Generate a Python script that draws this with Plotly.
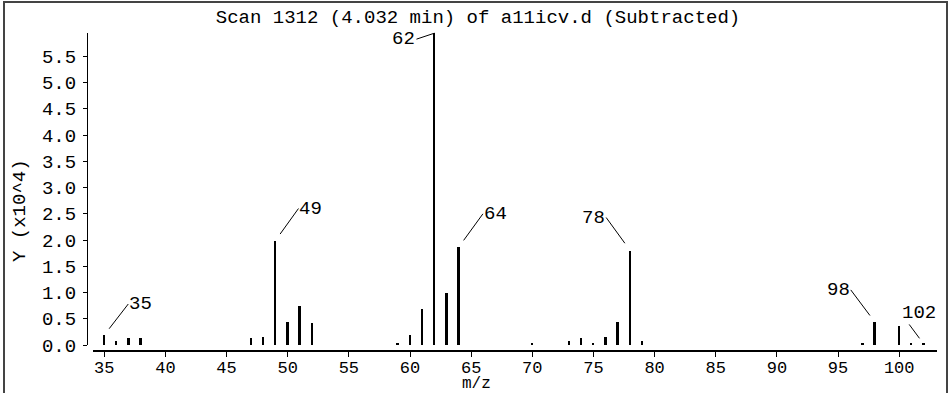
import plotly.graph_objects as go

# ---- data ----
title_text = "Scan 1312 (4.032 min) of a11icv.d (Subtracted)"
mz = [35, 36, 37, 38, 47, 48, 49, 50, 51, 52, 59, 60, 61, 62, 63, 64,
      70, 73, 74, 75, 76, 77, 78, 79, 97, 98, 100, 101, 102]
intensity = [0.19, 0.08, 0.13, 0.13, 0.13, 0.16, 1.99, 0.44, 0.74, 0.41,
             0.04, 0.19, 0.68, 5.94, 1.00, 1.87,
             0.02, 0.08, 0.13, 0.04, 0.16, 0.44, 1.80, 0.08,
             0.04, 0.44, 0.37, 0.04, 0.02]
labeled_mz = [35, 49, 62, 64, 78, 98, 102]
x_tick_vals = [35, 40, 45, 50, 55, 60, 65, 70, 75, 80, 85, 90, 95, 100]
y_tick_vals = [0.0, 0.5, 1.0, 1.5, 2.0, 2.5, 3.0, 3.5, 4.0, 4.5, 5.0, 5.5]
x_title = "m/z"
y_title = "Y (x10^4)"

# ---- layout geometry (pixels) ----
W, H = 950, 393
L, R, T, B = 87, 13, 33, 42
PW, PH = W - L - R, H - T - B
FONT = "Liberation Mono, Courier New, monospace"
FS = 19
FS_TICK = 17
FS_XT = 16

# label leader offsets (style): (ax, ay, xanchor, standoff)
label_style = {
    35: (24, -31, "left", 8),
    49: (23, -32, "left", 8),
    62: (-18, 6, "right", 0),
    64: (24, -33, "left", 8),
    78: (-24, -33, "right", 9),
    98: (-24, -32, "right", 8),
    102: (-23, -31, "left", 7),
}

fig = go.Figure()
fig.add_trace(go.Bar(
    x=mz, y=intensity, width=0.16,
    marker=dict(color="black", line=dict(width=0)),
    hoverinfo="x+y",
))

lookup = dict(zip(mz, intensity))
annotations = []
for m in labeled_mz:
    ax, ay, xa, so = label_style[m]
    annotations.append(dict(
        x=m, y=lookup[m], xref="x", yref="y",
        text=str(m), showarrow=True, arrowhead=0, arrowwidth=1,
        arrowcolor="black", ax=ax, ay=ay, axref="pixel", ayref="pixel",
        xanchor=xa, yanchor="middle", standoff=so,
        font=dict(family=FONT, size=FS, color="black"),
        borderpad=0,
    ))

# axis titles as annotations
annotations.append(dict(
    x=(476 - L) / PW, y=(H - B - 393) / PH, xref="paper", yref="paper",
    text=x_title, showarrow=False, xanchor="center", yanchor="bottom",
    font=dict(family=FONT, size=FS_XT, color="black"), borderpad=0,
    borderwidth=0,
))
annotations.append(dict(
    x=(20 - L) / PW, y=(H - B - 211) / PH, xref="paper", yref="paper",
    text=y_title, showarrow=False, xanchor="center", yanchor="middle",
    textangle=-90, font=dict(family=FONT, size=FS, color="black"),
))

fig.update_layout(
    width=W, height=H,
    margin=dict(l=L, r=R, t=T, b=B, pad=0),
    paper_bgcolor="white", plot_bgcolor="white",
    showlegend=False, bargap=0,
    title=dict(text=title_text, x=478 / W, xref="container",
               xanchor="center", y=1 - 16 / H, yref="container", yanchor="middle",
               font=dict(family=FONT, size=FS, color="black")),
    xaxis=dict(
        domain=[6 / PW, 1], range=[34.08, 103.09], anchor="free", position=0,
        tickvals=x_tick_vals, ticks="outside", ticklen=5, tickwidth=1,
        tickcolor="black", showline=True, linecolor="black", linewidth=2,
        showgrid=False, zeroline=False, ticklabelstandoff=-4,
        tickfont=dict(family=FONT, size=FS_TICK, color="black"),
    ),
    yaxis=dict(
        domain=[6 / PH, 1], range=[0, 5.943], anchor="free", position=0,
        tickvals=y_tick_vals, tickformat=".1f", ticks="outside", ticklen=4,
        tickwidth=1, tickcolor="black", showline=True, linecolor="black",
        linewidth=1, showgrid=False, zeroline=False, ticklabelstandoff=3,
        tickfont=dict(family=FONT, size=FS, color="black"),
    ),
    annotations=annotations,
    shapes=[dict(type="rect", xref="paper", yref="paper",
                 x0=(4 - L) / PW, x1=(947 - L) / PW,
                 y0=(H - B - 420) / PH, y1=(H - B - 2) / PH,
                 line=dict(color="#444444", width=2), fillcolor="rgba(0,0,0,0)",
                 layer="below")],
)

fig.write_html("out.html",
               config={"displayModeBar": False},
               post_script="document.body.style.margin='0';document.body.style.overflow='hidden';")
